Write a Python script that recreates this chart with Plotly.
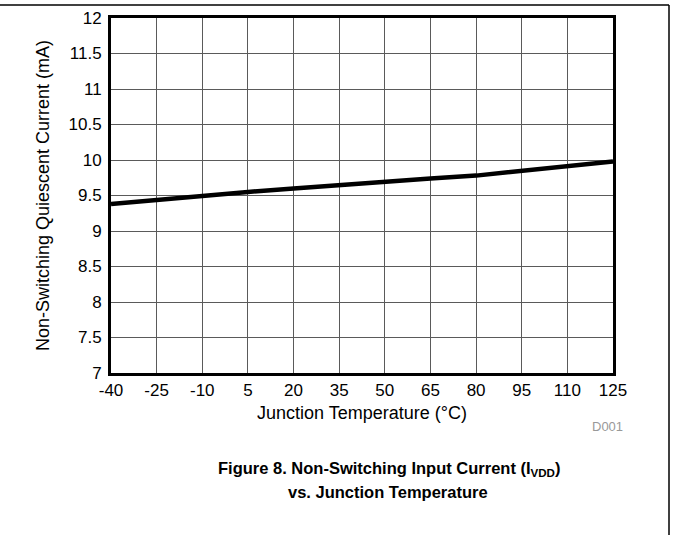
import plotly.graph_objects as go

# junction temperature (degC) and non-switching quiescent current (mA)
temp = [-40, -25, -10, 5, 20, 35, 50, 65, 80, 95, 110, 125]
current = [9.38, 9.44, 9.50, 9.55, 9.60, 9.65, 9.70, 9.74, 9.78, 9.85, 9.92, 9.98]

x_ticks = list(range(-40, 126, 15))
y_ticks = [7, 7.5, 8, 8.5, 9, 9.5, 10, 10.5, 11, 11.5, 12]

W, H = 676, 535
L, R, T, B = 111, 63, 18, 162
pw, ph = W - L - R, H - T - B


def px(x):
    return (x - L) / pw


def py(y):
    return (H - B - y) / ph


fig = go.Figure()
fig.add_trace(go.Scatter(x=temp, y=current, mode="lines",
                         line=dict(color="black", width=4.5), showlegend=False))

font = "Liberation Sans, Arial, sans-serif"
fig.update_layout(
    width=W, height=H,
    margin=dict(l=L, r=R, t=T, b=B, autoexpand=False),
    paper_bgcolor="white", plot_bgcolor="white",
    font=dict(family=font, color="black", size=17),
    showlegend=False,
)
fig.update_xaxes(
    range=[-40, 125], tickvals=x_ticks, ticktext=[str(v) for v in x_ticks],
    showgrid=True, gridcolor="#5a5a5a", gridwidth=1.3,
    showline=True, linecolor="black", linewidth=3, mirror=True,
    ticks="outside", ticklen=1, tickcolor="rgba(0,0,0,0)", ticklabelstandoff=-1,
    zeroline=False,
    title=dict(text="Junction Temperature (°C)", font=dict(size=18), standoff=7),
)
fig.update_yaxes(
    range=[7, 12], tickvals=y_ticks, ticktext=[f"{v:g}" for v in y_ticks],
    showgrid=True, gridcolor="#5a5a5a", gridwidth=1.3,
    showline=True, linecolor="black", linewidth=3, mirror=True,
    ticks="outside", ticklen=3, tickcolor="rgba(0,0,0,0)",
    zeroline=False,
    title=dict(text="Non-Switching Quiescent Current (mA)", font=dict(size=18), standoff=15),
)

# page frame lines
fig.add_shape(type="line", xref="paper", yref="paper",
              x0=px(0), x1=px(669), y0=py(5), y1=py(5),
              line=dict(color="black", width=1.5))
fig.add_shape(type="line", xref="paper", yref="paper",
              x0=px(669), x1=px(669), y0=py(5), y1=py(535),
              line=dict(color="black", width=1.5))

fig.add_annotation(text="D001", xref="paper", yref="paper", x=px(625), y=py(436),
                   showarrow=False, font=dict(size=13, color="#999999"))
fig.add_annotation(text="<b>Figure 8. Non-Switching Input Current (I<sub>VDD</sub>)</b>",
                   xref="paper", yref="paper", x=px(389), y=py(481),
                   showarrow=False, font=dict(size=16.5))
fig.add_annotation(text="<b>vs. Junction Temperature</b>",
                   xref="paper", yref="paper", x=px(388), y=py(503),
                   showarrow=False, font=dict(size=16.5))

fig.write_html("out.html", config={"displayModeBar": False},
               post_script="document.body.style.margin='0';")
